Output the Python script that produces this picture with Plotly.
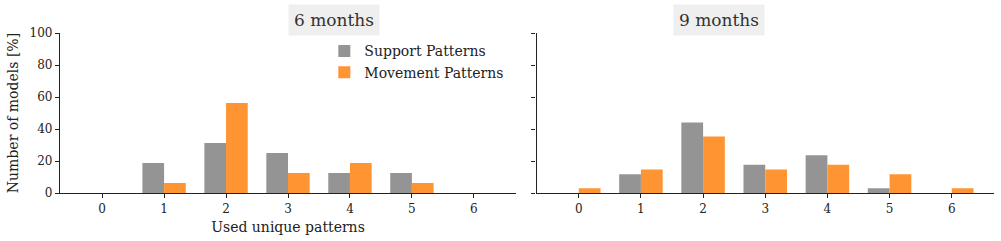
import plotly.graph_objects as go
from plotly.subplots import make_subplots

categories = [0, 1, 2, 3, 4, 5, 6]
tick_labels = ["0", "1", "2", "3", "4", "5", "6"]
support_6m = [0, 18.75, 31.25, 25.0, 12.5, 12.5, 0]
movement_6m = [0, 6.25, 56.25, 12.5, 18.75, 6.25, 0]
support_9m = [0, 11.76, 44.12, 17.65, 23.53, 2.94, 0]
movement_9m = [2.94, 14.71, 35.29, 14.71, 17.65, 11.76, 2.94]
titles = ["6 months", "9 months"]
y_ticks = [0, 20, 40, 60, 80, 100]

GRAY = "#949494"
ORANGE = "#ff9433"
FONT = "DejaVu Serif"
W, H = 1001, 241
ML, MR, MT, MB = 60, 7, 33, 48
PW = W - ML - MR

fig = make_subplots(rows=1, cols=2, horizontal_spacing=0.0)
d1 = (516 - ML) / PW
d2 = (536.5 - ML) / PW

for i, (sup, mov) in enumerate([(support_6m, movement_6m), (support_9m, movement_9m)]):
    col = i + 1
    fig.add_trace(go.Bar(x=categories, y=sup, name="Support Patterns", marker_color=GRAY,
                         marker_line_width=0, width=0.35, offset=-0.35,
                         showlegend=(i == 0), legendgroup="s"), row=1, col=col)
    fig.add_trace(go.Bar(x=categories, y=mov, name="Movement Patterns", marker_color=ORANGE,
                         marker_line_width=0, width=0.35, offset=0.0,
                         showlegend=(i == 0), legendgroup="m"), row=1, col=col)

axis_common = dict(showline=True, linecolor="#222222", linewidth=1.3, ticks="outside",
                   ticklen=4, tickwidth=1.2, tickcolor="#222222", showgrid=False,
                   zeroline=False, tickfont=dict(family=FONT, size=12, color="#222222"))

fig.update_layout(
    width=W, height=H, margin=dict(l=ML, r=MR, t=MT, b=MB),
    paper_bgcolor="white", plot_bgcolor="white", barmode="overlay",
    font=dict(family=FONT, color="#222222"),
    xaxis=dict(domain=[0, d1], range=[-0.68, 6.68], tickvals=categories, ticktext=tick_labels,
               title=dict(text="Used unique patterns", font=dict(family=FONT, size=14), standoff=7),
               **axis_common),
    xaxis2=dict(domain=[d2, 1], range=[-0.68, 6.68], tickvals=categories, ticktext=tick_labels,
                **axis_common),
    yaxis=dict(range=[0, 100], tickvals=y_ticks,
               title=dict(text="Number of models [%]", font=dict(family=FONT, size=14), standoff=7),
               **axis_common),
    yaxis2=dict(range=[0, 100], tickvals=y_ticks, showticklabels=False, **axis_common),
    legend=dict(x=0.283, y=0.985, xanchor="left", yanchor="top", bgcolor="rgba(255,255,255,0)",
                font=dict(family=FONT, size=14, color="#222222"), tracegroupgap=0),
)

centers = [d1 / 2, (d2 + 1) / 2]
for c, t in zip(centers, titles):
    fig.add_annotation(text=t, xref="paper", yref="paper", x=c, y=1 + 13 / (H - MT - MB),
                       yanchor="middle", showarrow=False,
                       font=dict(family=FONT, size=17, color="#333333"),
                       bgcolor="#efefef", borderpad=5)

fig.write_html("out.html")
